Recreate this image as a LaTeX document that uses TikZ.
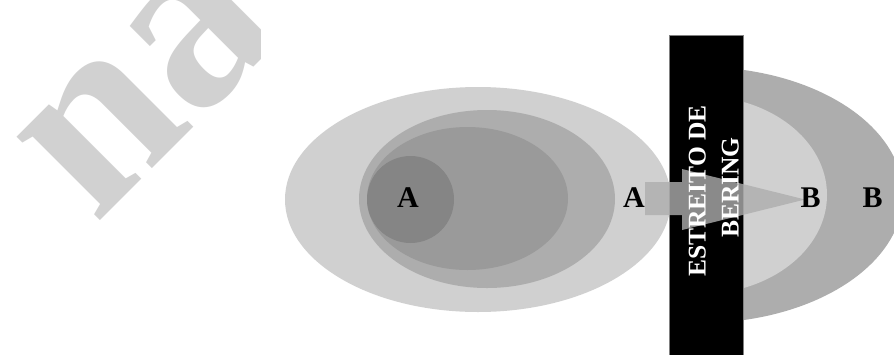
\documentclass[tikz,border=0pt]{standalone}
\usepackage{fontspec}
\setmainfont{Liberation Serif}[BoldFont={Liberation Serif Bold}]
\newfontfamily\tnrbold{Liberation Serif Bold}
\definecolor{lg}{RGB}{208,208,208}
\definecolor{mg}{RGB}{173,173,173}
\definecolor{dg}{RGB}{154,154,154}
\definecolor{cg}{RGB}{133,133,133}
\definecolor{wm}{RGB}{209,209,209}
\definecolor{arr}{RGB}{173,173,173}
\begin{document}
\begin{tikzpicture}[x=1pt,y=-1pt,
  letter/.style={inner sep=0pt, anchor=base, font=\fontsize{30}{30}\selectfont\tnrbold, text=black},
  strait/.style={inner sep=0pt, anchor=base, rotate=90, font=\fontsize{25.5}{30}\selectfont\tnrbold, text=white}]
\useasboundingbox (0,0) rectangle (894,354);
\fill[white] (0,0) rectangle (894,354);
% watermark
\begin{scope}
\clip (0,0) rectangle (260,354);
\node[inner sep=0pt, anchor=base west, rotate=45, text=wm, font=\fontsize{257}{257}\selectfont\tnrbold] (wmark) at (95,226) {na};
\end{scope}
% left ellipses
\fill[lg] (478,199.5) ellipse [x radius=193pt, y radius=112.5pt];
\fill[mg] (487,199) ellipse [x radius=128pt, y radius=89pt];
\fill[dg] (467.5,198.5) ellipse [x radius=100.5pt, y radius=71.5pt];
\fill[cg] (410.5,199.5) circle [radius=43.5pt];
% right ellipses (visible only right of the strait)
\begin{scope}
\clip (700,0) rectangle (894,354);
\fill[mg] (700,195) ellipse [x radius=203pt, y radius=128pt];
\fill[lg] (700,195) ellipse [x radius=127pt, y radius=99pt];
\end{scope}
% strait bar
\node[draw=gray, line width=0.8pt, fill=black, minimum width=74pt, minimum height=330pt, inner sep=0pt, anchor=north west] (bar) at (669,35) {};
% arrow
\fill[arr, opacity=0.8] (645,182) -- (682,182) -- (682,169) -- (805,199.5) -- (682,230) -- (682,215) -- (645,215) -- cycle;
% strait label
\node[strait] (s1) at (705.5,191) {ESTREITO DE};
\node[strait] (s2) at (738.5,187.5) {BERING};
% letters
\node[letter] (a1) at (408,207.5) {A};
\node[letter] (a2) at (634,207) {A};
\node[letter] (b1) at (810.5,207) {B};
\node[letter] (b2) at (872.5,207) {B};
\end{tikzpicture}
\end{document}
